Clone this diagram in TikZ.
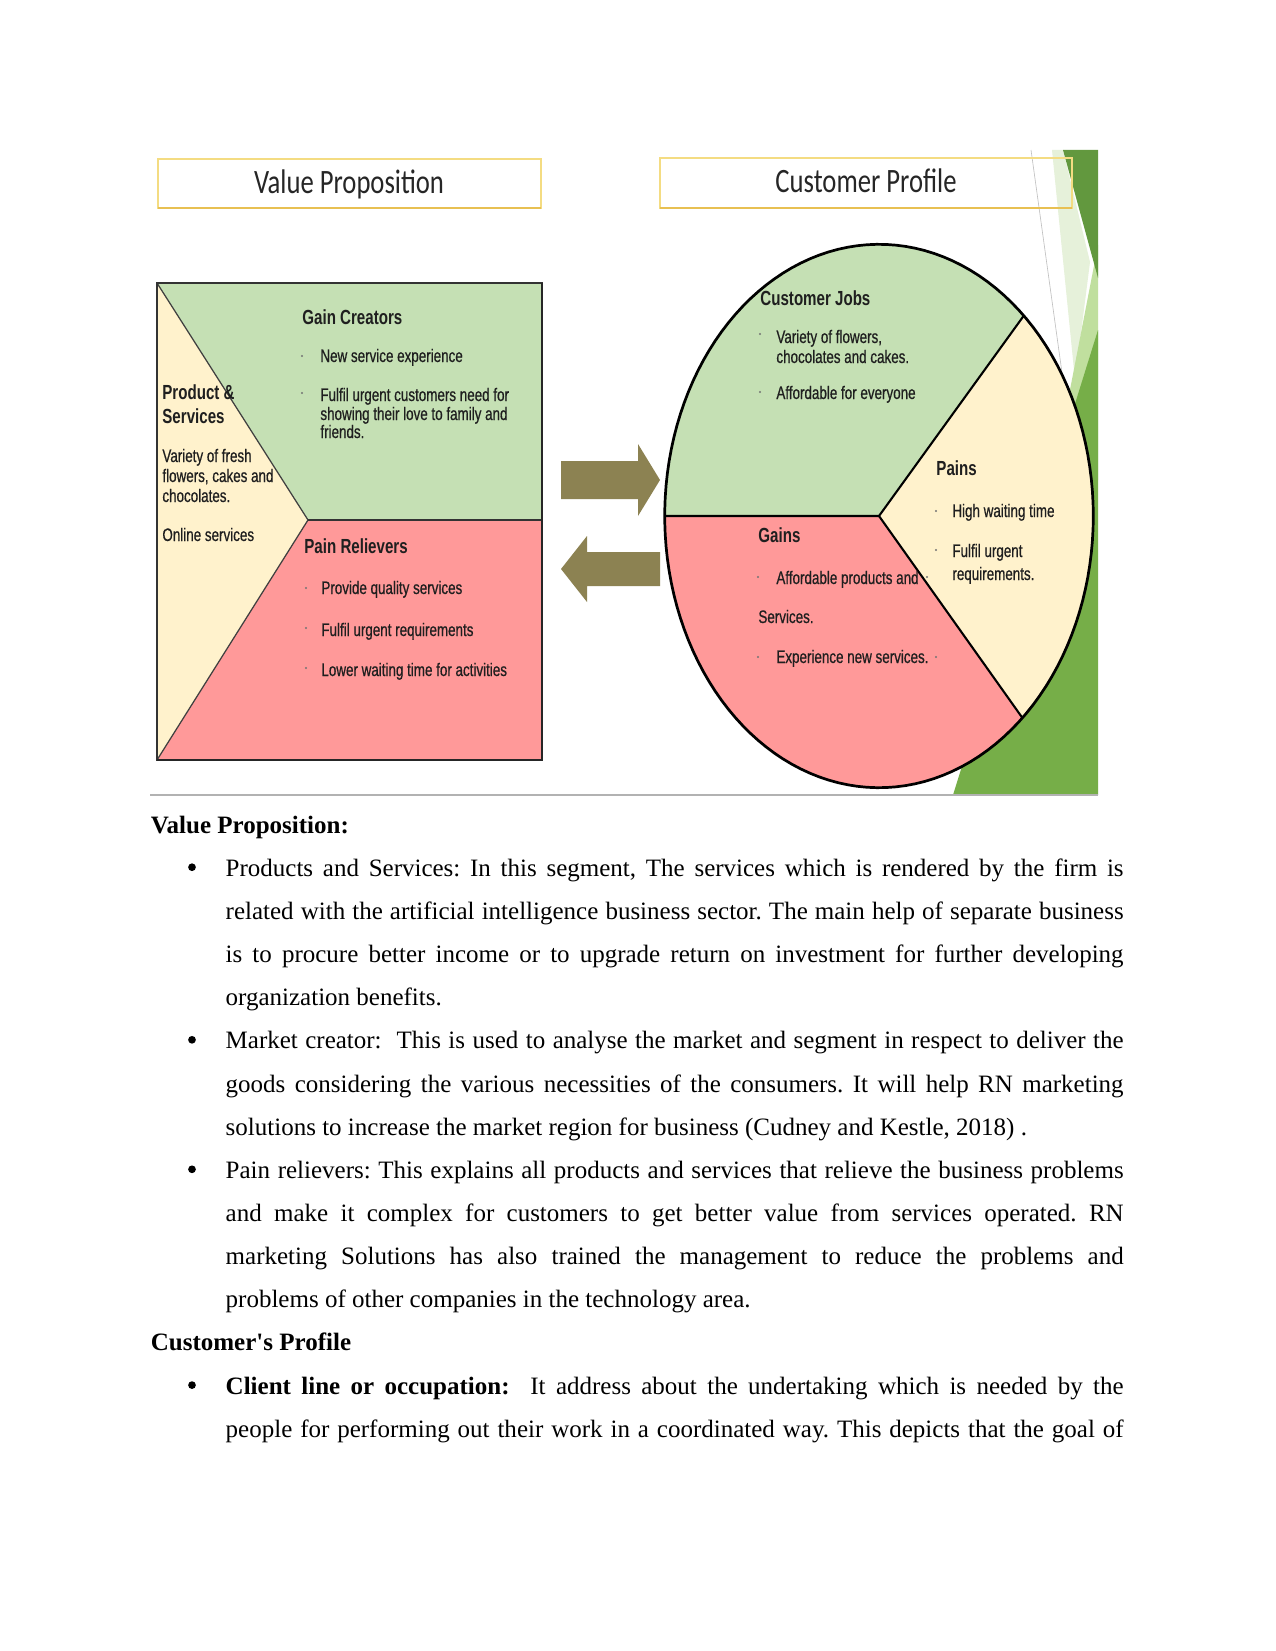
\documentclass[tikz,border=0pt]{standalone}
\usepackage{fontspec}
\setmainfont{Liberation Serif}
\newfontfamily\narrowsf[FakeStretch=0.74]{Liberation Sans}
\newfontfamily\itemsf[FakeStretch=0.74, FakeBold=0.6]{Liberation Sans}
\newfontfamily\titlesf[FakeStretch=0.78]{Carlito}
\definecolor{gaingreen}{RGB}{197,224,180}
\definecolor{paincream}{RGB}{255,242,204}
\definecolor{painpink}{RGB}{255,153,153}
\definecolor{arrowolive}{RGB}{140,130,82}
\definecolor{boxgold}{RGB}{244,220,130}
\definecolor{boxgolddark}{RGB}{232,192,82}
\definecolor{facetdark}{RGB}{98,152,62}
\definecolor{facetmid}{RGB}{118,174,72}
\definecolor{facetlight}{RGB}{192,223,158}
\definecolor{facetpale}{RGB}{230,241,218}
\tikzset{
  titlebox/.style={draw=boxgold, line width=0.7pt},
  titleedge/.style={draw=boxgolddark, line width=1.4pt},
  titletext/.style={anchor=base, inner sep=0pt, text=black!85,
    font=\titlesf\fontsize{16.4}{18}\selectfont},
  headtext/.style={anchor=base west, inner sep=0pt, text=black!88,
    font=\narrowsf\bfseries\fontsize{9.8}{11}\selectfont},
  itemtext/.style={anchor=base west, inner sep=0pt, text=black!88,
    font=\itemsf\fontsize{8.7}{10}\selectfont},
  itemdot/.style={fill=black!55},
  segline/.style={draw=black, line width=1pt},
  blockarrow/.style={fill=arrowolive, draw=none},
  bodyline/.style={anchor=base west, inner sep=0pt, font=\fontsize{12}{14}\selectfont},
  bodyhead/.style={bodyline, font=\bfseries\fontsize{12}{14}\selectfont},
  bodybullet/.style={circle, fill=black, inner sep=0pt, minimum size=3.7pt}
}
\newcommand{\jline}[1]{\makebox[431pt][s]{#1}}
\frenchspacing
\begin{document}
\begin{tikzpicture}[x=0.48pt, y=-0.48pt]
  \useasboundingbox (0,0) rectangle (1275,1651);
  \fill[white] (0,0) rectangle (1275,1651);

  % ── Facet decoration on the right edge ───────────────────────────
  \fill[facetpale]  (1052,150) -- (1063,150) -- (1090,262) -- (1075,380) -- cycle;
  \fill[facetlight] (1098,245) -- (1098,480) -- (1068,400) -- cycle;
  \fill[facetmid]   (953,795) -- (1098,795) -- (1098,330) -- cycle;
  \fill[facetdark]  (1063,150) -- (1098,150) -- (1098,278) -- cycle;
  \draw[black!25, line width=0.3pt] (1031,150) -- (1063,380);
  \draw[black!30, line width=1.4pt] (150,795) -- (1098,795);

  % ── Title boxes ──────────────────────────────────────────────────
  \draw[titlebox] (158,159) rectangle (541,208);
  \draw[titleedge] (158,208) -- (541,208);
  \node[titletext] (vptitle) at (349,194) {Value Proposition};

  \draw[titlebox] (660,158) rectangle (1072,208);
  \draw[titleedge] (660,208) -- (1072,208);
  \node[titletext] (cptitle) at (866,193) {Customer Profile};

  % ── Value proposition square ─────────────────────────────────────
  \coordinate (VPtl) at (157,283);
  \coordinate (VPtr) at (542,283);
  \coordinate (VPbr) at (542,760);
  \coordinate (VPbl) at (157,760);
  \coordinate (VPmid) at (308,520);
  \coordinate (VPright) at (542,520);

  \fill[paincream] (VPtl) rectangle (VPbr);
  \fill[gaingreen] (VPtl) -- (VPtr) -- (VPright) -- (VPmid) -- cycle;
  \fill[painpink]  (VPmid) -- (VPright) -- (VPbr) -- (VPbl) -- cycle;
  \draw[black!75, line width=0.6pt] (VPtl) -- (VPmid) -- (VPbl);
  \draw[black!80, line width=0.8pt] (VPmid) -- (VPright);
  \draw[black!80, line width=0.9pt] (VPtl) rectangle (VPbr);
  \draw[black!85, line width=1.4pt] (VPtr) -- (VPbr) -- (VPbl);

  \node[headtext] (gainhead) at (302,324) {Gain Creators};
  \foreach \nm/\yy/\txt in {gain1/362/New service experience,
                            gain2/401/Fulfil urgent customers need for,
                            gain3/420/showing their love to family and,
                            gain4/438/friends.}
    { \node[itemtext] (\nm) at (320,\yy) {\txt}; }
  \foreach \yy in {356,393} { \fill[itemdot] (302,\yy) circle (0.55pt); }

  \node[headtext] (prodhead1) at (162,399) {Product \&};
  \node[headtext] (prodhead2) at (162,423) {Services};
  \foreach \nm/\yy/\txt in {prod1/462/Variety of fresh,
                            prod2/482/{flowers, cakes and},
                            prod3/502/chocolates.,
                            prod4/541/Online services}
    { \node[itemtext] (\nm) at (162,\yy) {\txt}; }

  \node[headtext] (painhead) at (304,553) {Pain Relievers};
  \foreach \nm/\yy/\txt in {rel1/594/Provide quality services,
                            rel2/636/Fulfil urgent requirements,
                            rel3/676/Lower waiting time for activities}
    { \node[itemtext] (\nm) at (321,\yy) {\txt}; }
  \foreach \yy in {588,628,668} { \fill[itemdot] (306,\yy) circle (0.55pt); }

  % ── Block arrows ─────────────────────────────────────────────────
  \fill[blockarrow] (561,461) -- (638,461) -- (638,444) -- (660,480)
                    -- (638,516) -- (638,499) -- (561,499) -- cycle;
  \fill[blockarrow] (660,552) -- (587,552) -- (587,536) -- (561,569)
                    -- (587,602) -- (587,586) -- (660,586) -- cycle;

  % ── Customer profile ellipse ─────────────────────────────────────
  \def\cx{879} \def\cy{516} \def\rx{214.3} \def\ry{271.7}
  \coordinate (CPc) at (\cx,\cy);
  \coordinate (CPl) at ({\cx-\rx},\cy);
  \coordinate (CPur) at ({\cx+\rx*cos(312.5)},{\cy+\ry*sin(312.5)});
  \coordinate (CPlr) at ({\cx+\rx*cos(48)},{\cy+\ry*sin(48)});

  \fill[gaingreen] (CPc) -- plot[domain=180:312.5, samples=60]
        ({\cx+\rx*cos(\x)},{\cy+\ry*sin(\x)}) -- cycle;
  \fill[paincream] (CPc) -- plot[domain=312.5:408, samples=60]
        ({\cx+\rx*cos(\x)},{\cy+\ry*sin(\x)}) -- cycle;
  \fill[painpink] (CPc) -- plot[domain=48:180, samples=60]
        ({\cx+\rx*cos(\x)},{\cy+\ry*sin(\x)}) -- cycle;
  \draw[segline] (CPl) -- (CPc) -- (CPur);
  \draw[segline] (CPc) -- (CPlr);
  \draw[black, line width=1.3pt] plot[domain=0:360, samples=140]
        ({\cx+\rx*cos(\x)},{\cy+\ry*sin(\x)}) -- cycle;

  \node[headtext] (jobhead) at (760,305) {Customer Jobs};
  \foreach \nm/\yy/\txt in {job1/343/{Variety of flowers,},
                            job2/363/chocolates and cakes.,
                            job3/399/Affordable for everyone}
    { \node[itemtext] (\nm) at (776,\yy) {\txt}; }
  \foreach \yy in {334,392} { \fill[itemdot] (760,\yy) circle (0.55pt); }

  \node[headtext] (painshead) at (936,475) {Pains};
  \foreach \nm/\yy/\txt in {pains1/517/High waiting time,
                            pains2/557/Fulfil urgent,
                            pains3/580/requirements.}
    { \node[itemtext] (\nm) at (952,\yy) {\txt}; }
  \foreach \yy in {511,550} { \fill[itemdot] (936,\yy) circle (0.55pt); }

  \node[headtext] (gainshead) at (758,542) {Gains};
  \node[itemtext] (gains1) at (776,584) {Affordable products and};
  \node[itemtext] (gains2) at (758,623) {Services.};
  \node[itemtext] (gains3) at (776,663) {Experience new services.};
  \foreach \p in {(758,577),(758,657),(927,577),(936,657)}
    { \fill[itemdot] \p circle (0.55pt); }

  % ── Body text ────────────────────────────────────────────────────
  \node[bodyhead] (vphead) at (150.5,833) {Value Proposition:};
  \foreach \nm/\yy in {bul1/876.2, bul2/1048.8, bul3/1178.3, bul4/1394.1}
    { \node[bodybullet] (\nm) at (192,\yy-9) {}; }

  \node[bodyline] (l1) at (225.3,876.2) {\jline{Products and Services: In this segment, The services which is rendered by the firm is}};
  \node[bodyline] (l2) at (225.3,919.3) {\jline{related with the artificial intelligence business sector. The main help of separate business}};
  \node[bodyline] (l3) at (225.3,962.5) {\jline{is to procure better income or to upgrade return on investment for further developing}};
  \node[bodyline] (l4) at (225.3,1005.6) {organization benefits.};
  \node[bodyline] (l5) at (225.3,1048.8) {\jline{Market creator:\ \ This is used to analyse the market and segment in respect to deliver the}};
  \node[bodyline] (l6) at (225.3,1092) {\jline{goods considering the various necessities of the consumers. It will help RN marketing}};
  \node[bodyline] (l7) at (225.3,1135.1) {solutions to increase the market region for business (Cudney and Kestle, 2018) .};
  \node[bodyline] (l8) at (225.3,1178.3) {\jline{Pain relievers: This explains all products and services that relieve the business problems}};
  \node[bodyline] (l9) at (225.3,1221.4) {\jline{and make it complex for customers to get better value from services operated. RN}};
  \node[bodyline] (l10) at (225.3,1264.6) {\jline{marketing Solutions has also trained the management to reduce the problems and}};
  \node[bodyline] (l11) at (225.3,1307.8) {problems of other companies in the technology area.};

  \node[bodyhead] (cphead) at (150.5,1350.9) {Customer\textquotesingle s Profile};
  \node[bodyline] (l12) at (225.3,1394.1) {\jline{\textbf{Client line or occupation:}\ \ It address about the undertaking which is needed by the}};
  \node[bodyline] (l13) at (225.3,1437.2) {\jline{people for performing out their work in a coordinated way. This depicts that the goal of}};
\end{tikzpicture}
\end{document}
